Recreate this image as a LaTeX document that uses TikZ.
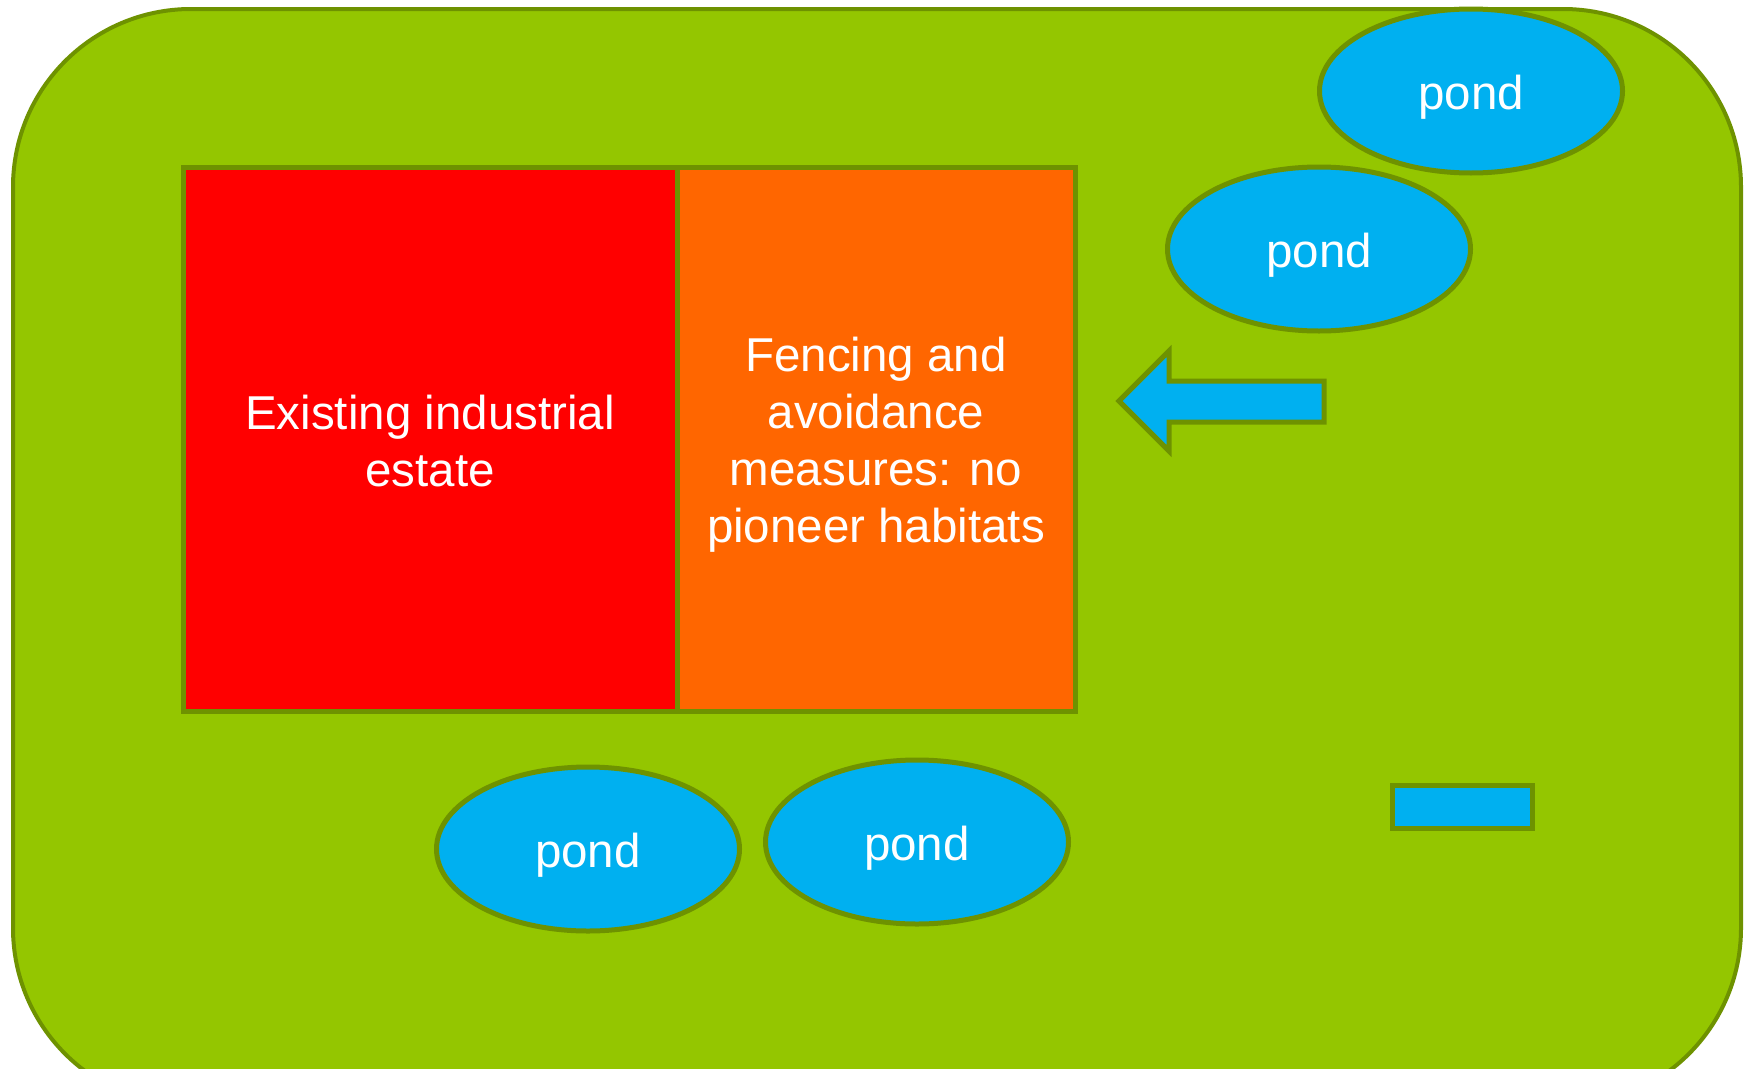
\documentclass[tikz,border=0pt]{standalone}
\usepackage{fontspec}
\setmainfont{Liberation Sans}
\usetikzlibrary{shapes.geometric}
\definecolor{fieldgreen}{RGB}{148,198,0}
\definecolor{edgegreen}{RGB}{110,146,0}
\definecolor{pondblue}{RGB}{0,176,240}
\definecolor{estatered}{RGB}{255,0,0}
\definecolor{fenceorange}{RGB}{255,102,0}
\tikzset{
  bigtext/.style={font=\fontsize{47.5}{57}\selectfont, text=white, align=center},
  blockbox/.style={draw=edgegreen, line width=5pt, rectangle, inner sep=0pt, line join=miter},
  pondshape/.style={ellipse, draw=edgegreen, fill=pondblue, line width=5pt, inner sep=0pt,
    minimum width=303pt, minimum height=164pt, bigtext, text height=47pt, text depth=10pt},
}
\begin{document}
\begin{tikzpicture}[x=1pt, y=-1pt]
\useasboundingbox (0,0) rectangle (1750,1068);
\clip (0,0) rectangle (1750,1068);
% field
\draw[fill=fieldgreen, draw=edgegreen, line width=4pt, rounded corners=178pt] (13,9) rectangle (1741,1106);
% estate blocks
\node[blockbox, fill=estatered, minimum width=494pt, minimum height=544pt] (estate) at (430,439) {};
\node[bigtext, inner sep=0pt] (estatetext) at ([yshift=-2pt]estate.center) {Existing industrial\\estate};
\node[blockbox, fill=fenceorange, minimum width=398pt, minimum height=544pt] (fence) at (876,439) {};
\node[bigtext, inner sep=0pt] (fencetext) at ([yshift=-6pt]fence.center) {Fencing and\\avoidance\\measures: no\\pioneer habitats};
% ponds
\node[pondshape] (p1) at (1471,91) {pond};
\node[pondshape] (p2) at (1319,249) {pond};
\node[pondshape] (p3) at (588,849) {pond};
\node[pondshape] (p4) at (917,842) {pond};
% arrow
\draw[draw=edgegreen, fill=pondblue, line width=5pt, line join=miter]
  (1119,401) -- (1169,351) -- (1169,381) -- (1324,381) -- (1324,422) -- (1169,422) -- (1169,451) -- cycle;
% small rectangle
\node[blockbox, fill=pondblue, minimum width=140pt, minimum height=43pt] (strip) at (1462.5,806.5) {};
\end{tikzpicture}
\end{document}
